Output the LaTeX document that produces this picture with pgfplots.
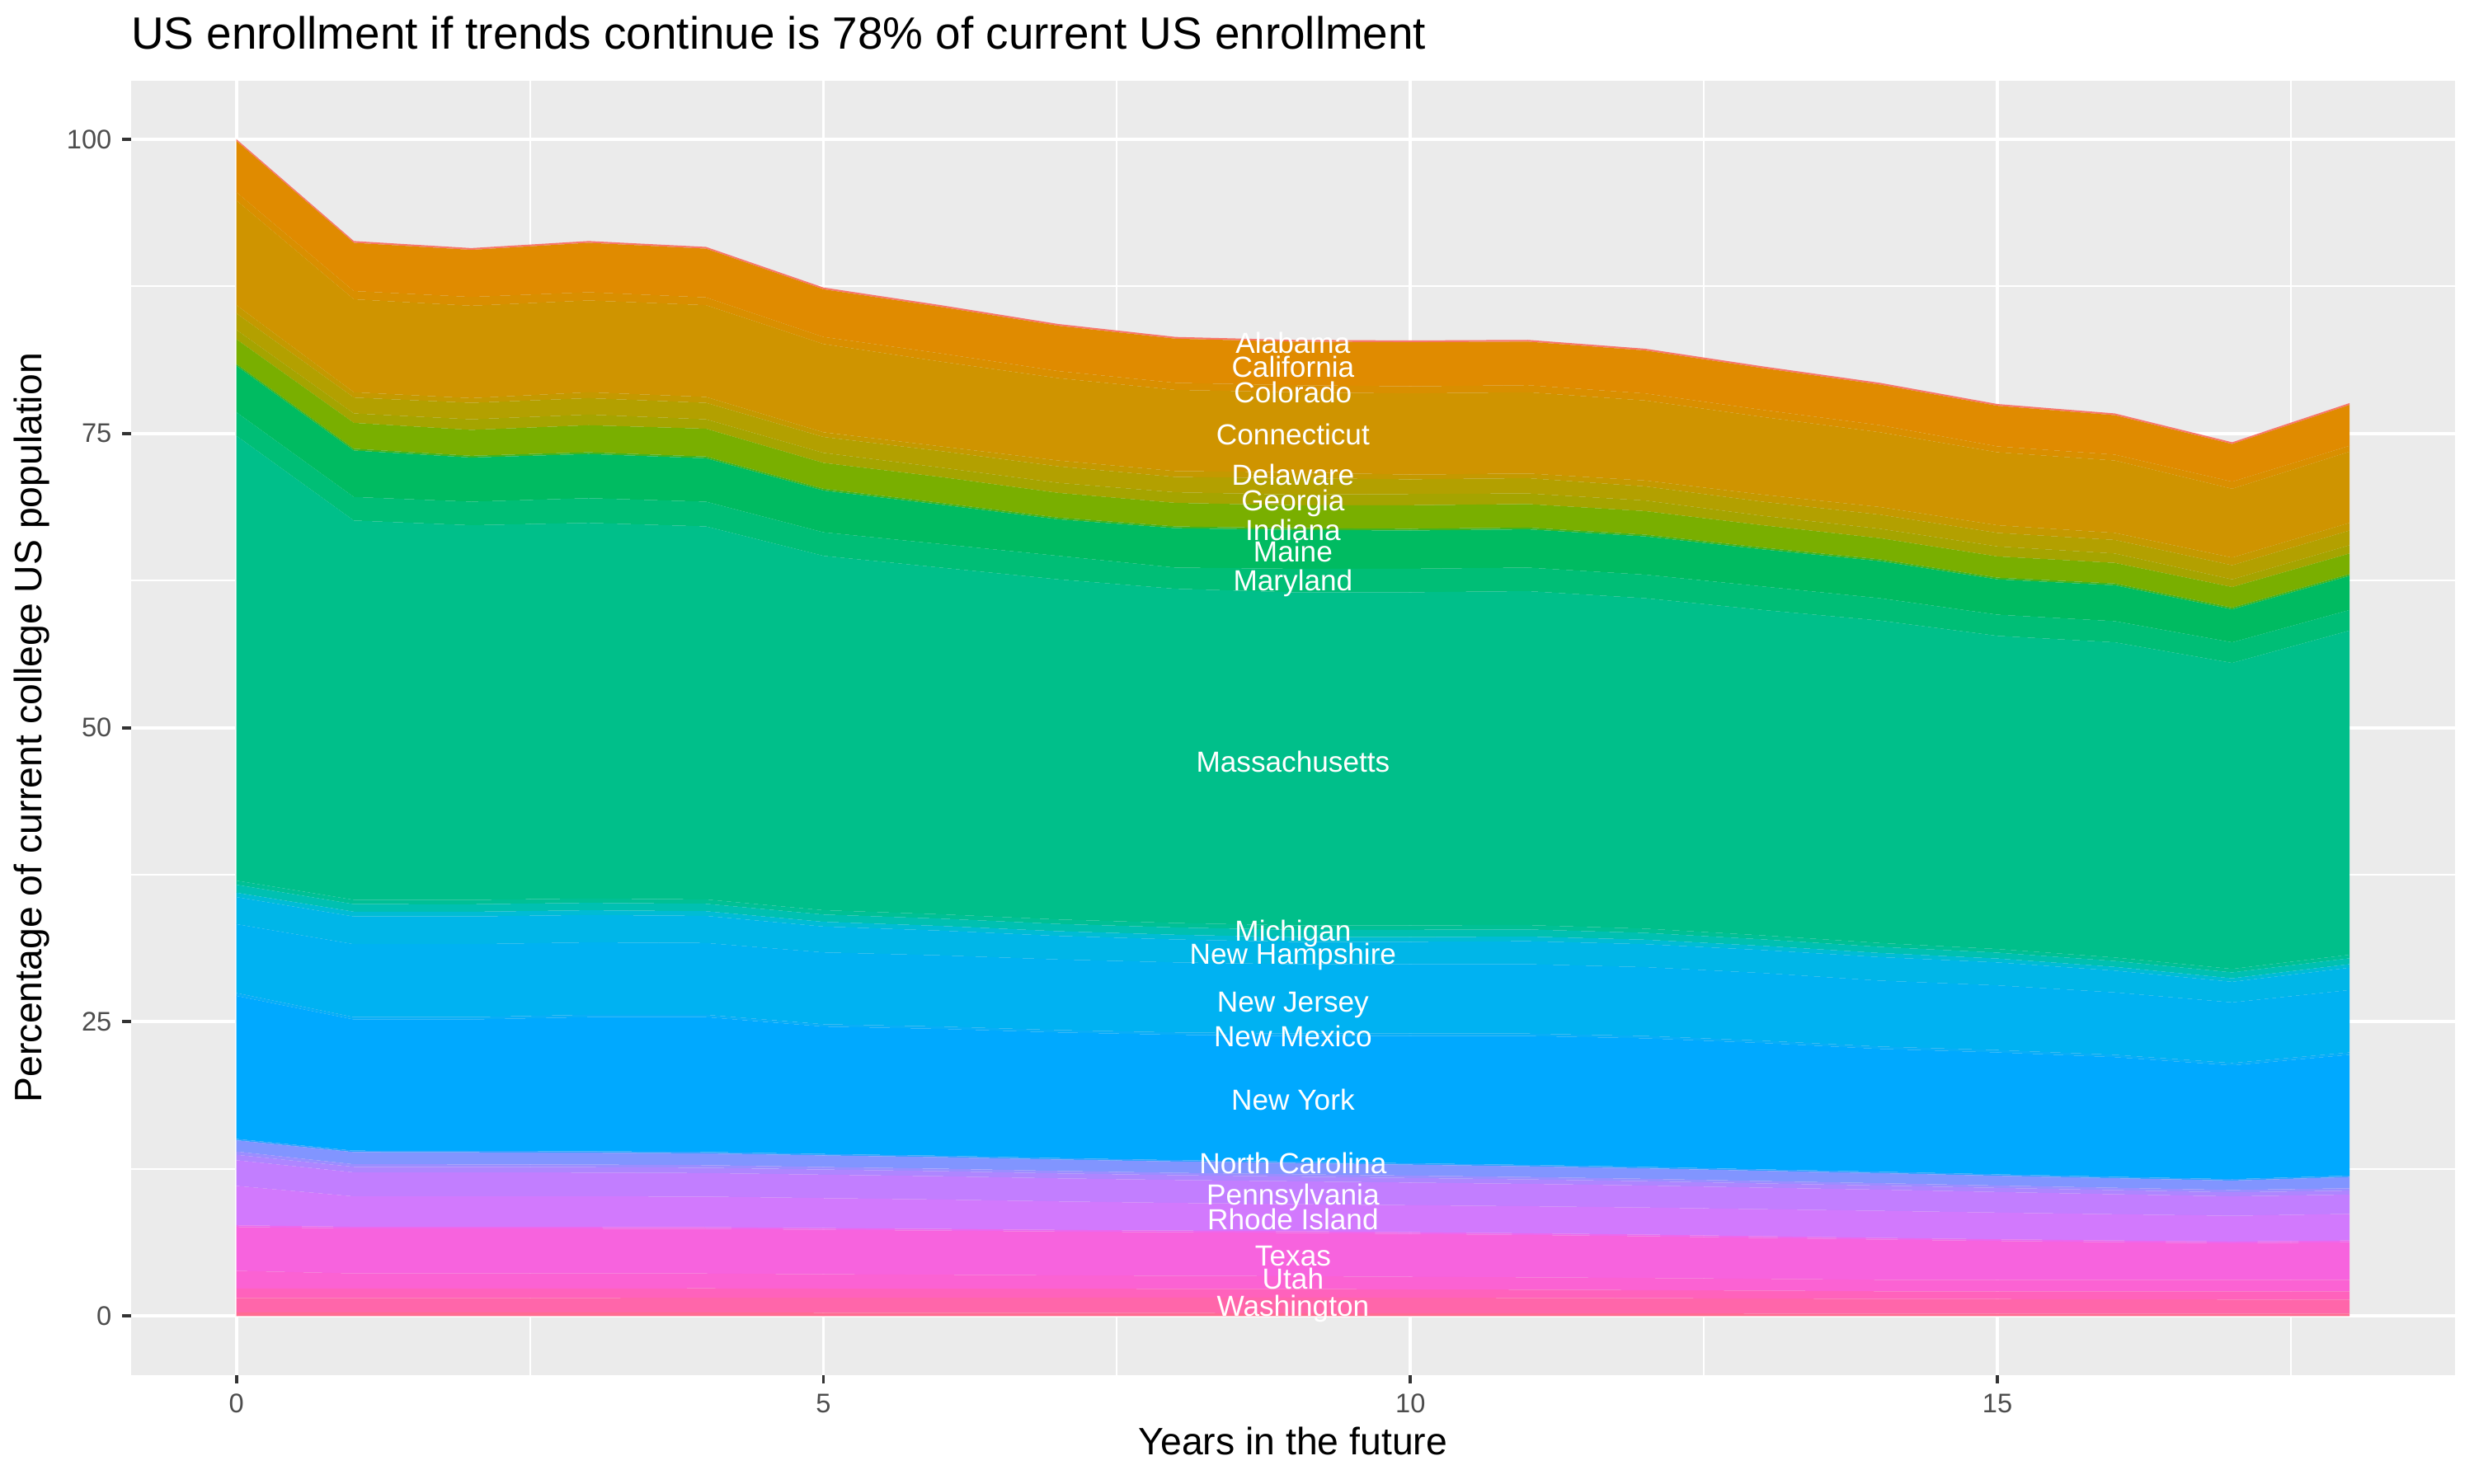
\documentclass[border=0pt]{standalone}
\usepackage{fontspec}
\setmainfont{Liberation Sans}
\usepackage{pgfplots}
\usepackage{pgfplotstable}
\pgfplotsset{compat=1.18}

% ggplot hue palette, one colour per state (alphabetical, Alabama first)
\definecolor{panelbg}{HTML}{EBEBEB}
\definecolor{tickcol}{HTML}{333333}
\definecolor{labcol}{HTML}{4D4D4D}
\definecolor{cWY}{HTML}{FF6C91}
\definecolor{cWA}{HTML}{FF66AA}
\definecolor{cVA}{HTML}{FF62BC}
\definecolor{cUT}{HTML}{FB62D3}
\definecolor{cTX}{HTML}{F763DE}
\definecolor{cTN}{HTML}{EC68EE}
\definecolor{cRI}{HTML}{D279FD}
\definecolor{cPA}{HTML}{C27EFF}
\definecolor{cOR}{HTML}{AE86FF}
\definecolor{cOK}{HTML}{9B8EFF}
\definecolor{cOH}{HTML}{8195FF}
\definecolor{cNC}{HTML}{32A3FF}
\definecolor{cNY}{HTML}{00A9FF}
\definecolor{cNM}{HTML}{09AEF7}
\definecolor{cNJ}{HTML}{00B2F2}
\definecolor{cNH}{HTML}{00B6E8}
\definecolor{cNV}{HTML}{00BCD5}
\definecolor{cMN}{HTML}{00C0B1}
\definecolor{cMI}{HTML}{00C095}
\definecolor{cMA}{HTML}{00BF8A}
\definecolor{cMD}{HTML}{00BE76}
\definecolor{cME}{HTML}{00BB61}
\definecolor{cIN}{HTML}{40B420}
\definecolor{cIL}{HTML}{79AF00}
\definecolor{cGA}{HTML}{A5A400}
\definecolor{cFL}{HTML}{B3A000}
\definecolor{cDE}{HTML}{C49900}
\definecolor{cCT}{HTML}{CF9400}
\definecolor{cCO}{HTML}{D98F00}
\definecolor{cCA}{HTML}{E08B00}
\definecolor{cAL}{HTML}{F8766D}

% share of current enrollment per state, bottom of the stack first
\pgfplotstableread{
yr WY WA VA UT TX TN RI PA OR OK OH NC NY NM NJ NH NV MN MI MA MD ME IN IL GA FL DE CT CO CA AL
0 .30 1.23 .81 1.50 3.73 .14 3.35 2.18 .46 .28 .95 .12 12.15 .25 5.85 2.30 .37 .68 .35 37.80 2.00 3.95 .15 2.10 .80 1.40 .70 8.90 .70 4.35 .15
1 .30 1.23 .81 1.28 3.82 .14 2.59 2.04 .47 .22 1.03 .12 11.15 .20 6.20 2.35 .41 .64 .37 32.23 2.00 3.95 .15 2.20 .80 1.35 .45 7.90 .70 4.10 .15
2 .30 1.23 .80 1.28 3.82 .14 2.60 2.03 .47 .22 1.02 .12 11.17 .20 6.20 2.35 .40 .64 .37 31.84 2.00 3.75 .15 2.20 .90 1.40 .40 7.85 .75 4.00 .15
3 .30 1.24 .80 1.27 3.82 .14 2.60 2.02 .46 .22 1.01 .12 11.40 .20 6.15 2.33 .40 .63 .37 31.92 2.10 3.75 .15 2.30 .90 1.40 .50 7.80 .70 4.20 .15
4 .30 1.25 .80 1.26 3.80 .14 2.60 2.00 .45 .22 1.00 .12 11.46 .20 6.10 2.30 .40 .63 .37 31.70 2.10 3.69 .15 2.36 .80 1.40 .50 7.80 .66 4.14 .15
5 .28 1.27 .78 1.22 3.78 .14 2.55 1.99 .44 .21 .99 .12 10.83 .20 6.10 2.20 .40 .62 .37 30.11 2.00 3.55 .15 2.20 .85 1.35 .40 7.50 .60 4.05 .15
6 .27 1.29 .77 1.18 3.75 .14 2.50 1.98 .43 .21 .98 .12 10.78 .20 6.05 2.10 .40 .62 .37 29.46 2.00 3.35 .15 2.20 .80 1.40 .40 7.20 .70 3.95 .15
7 .26 1.30 .76 1.14 3.72 .14 2.42 1.96 .42 .21 .97 .12 10.68 .20 6.00 2.00 .40 .62 .38 28.90 2.00 3.10 .15 2.10 .85 1.40 .50 7.00 .60 3.85 .15
8 .25 1.32 .74 1.11 3.70 .14 2.35 1.95 .41 .20 .96 .12 10.65 .20 5.95 1.95 .40 .62 .38 28.40 1.80 3.35 .15 2.00 .90 1.30 .50 6.90 .60 3.75 .15
9 .24 1.33 .73 1.09 3.68 .14 2.30 1.94 .40 .20 .95 .12 10.68 .20 5.90 1.90 .40 .62 .38 28.30 2.00 3.30 .15 1.95 .90 1.40 .50 6.80 .60 3.70 .15
10 .23 1.32 .71 1.07 3.65 .14 2.30 1.92 .39 .20 .93 .12 10.82 .20 5.90 1.90 .40 .62 .38 28.30 2.00 3.25 .15 2.00 .95 1.25 .40 6.90 .60 3.75 .15
11 .23 1.31 .70 1.05 3.60 .14 2.30 1.90 .38 .20 .91 .12 10.96 .20 5.90 1.95 .40 .60 .37 28.38 2.00 3.25 .15 2.00 .90 1.30 .40 6.90 .60 3.70 .15
12 .22 1.30 .68 1.03 3.55 .14 2.30 1.87 .37 .20 .89 .12 10.93 .20 5.85 1.95 .38 .58 .36 28.08 2.00 3.25 .15 2.00 .90 1.20 .50 6.80 .60 3.65 .15
13 .21 1.28 .67 1.00 3.48 .14 2.30 1.83 .36 .20 .87 .12 10.74 .20 5.75 1.95 .36 .55 .34 27.65 2.00 3.15 .15 1.90 .80 1.20 .60 6.60 .60 3.55 .15
14 .20 1.25 .65 .98 3.42 .14 2.30 1.80 .35 .20 .85 .12 10.44 .20 5.60 2.00 .35 .52 .33 27.40 1.90 3.15 .15 1.80 .80 1.20 .65 6.35 .60 3.45 .15
15 .20 1.24 .66 .98 3.30 .14 2.27 1.75 .35 .20 .83 .12 10.36 .20 5.50 1.95 .33 .50 .31 26.61 1.80 3.00 .15 1.80 .85 1.15 .65 6.20 .50 3.45 .15
16 .20 1.22 .68 .98 3.20 .14 2.23 1.70 .35 .20 .81 .12 10.17 .20 5.30 1.85 .32 .50 .30 26.78 1.80 3.05 .15 1.75 .80 1.15 .60 6.15 .50 3.35 .15
17 .20 1.20 .70 .98 3.10 .14 2.20 1.65 .34 .20 .80 .12 9.67 .20 5.15 1.75 .30 .50 .30 26.00 1.75 2.80 .15 1.75 .65 1.20 .65 5.85 .60 3.20 .15
18 .20 1.20 .70 .98 3.20 .14 2.26 1.64 .34 .20 .95 .12 10.27 .20 5.30 1.90 .30 .50 .30 27.55 1.75 2.90 .15 1.75 .70 1.25 .65 6.05 .50 3.48 .15
}\enroll

\tikzset{statelab/.style={text=white, font=\fontsize{9.5}{11}\selectfont, inner sep=0pt}}

\begin{document}
\begin{tikzpicture}
\useasboundingbox (0,0) rectangle (28.45cm,17.07cm);
\begin{axis}[
  at={(1.504cm,1.255cm)}, anchor=south west,
  scale only axis, width=26.73cm, height=14.89cm,
  xmin=-0.9, xmax=18.9, ymin=-5, ymax=105,
  axis background/.style={fill=panelbg},
  axis line style={draw=none},
  tick pos=left, tick align=outside,
  xtick={0,5,10,15}, ytick={0,25,50,75,100},
  minor xtick={2.5,7.5,12.5,17.5}, minor ytick={12.5,37.5,62.5,87.5},
  major tick length=2.75pt, minor tick length=0pt,
  tick style={color=tickcol, line width=1.07pt},
  grid=both,
  major grid style={white, line width=1.07pt},
  minor grid style={white, line width=0.53pt},
  /pgf/number format/assume math mode=true,
  ticklabel style={font=\fontsize{8.8}{10}\selectfont, text=labcol},
  title={US enrollment if trends continue is 78\% of current US enrollment},
  title style={at={(axis description cs:0,1)}, anchor=base west, inner sep=0pt,
    yshift=0.147cm, font=\fontsize{14.8}{17}\selectfont},
  xlabel={Years in the future},
  ylabel={Percentage of current college US population},
  xlabel style={at={(axis description cs:0.5,-0.051)}, anchor=center,
    inner sep=0pt, font=\fontsize{12.5}{15}\selectfont},
  ylabel style={at={(axis description cs:-0.0427,0.5)}, anchor=center,
    inner sep=0pt, font=\fontsize{12.5}{15}\selectfont},
  stack plots=y,
]
\addplot[fill=cWY, draw=none, mark=none] table[x=yr,y=WY]{\enroll} \closedcycle;
\addplot[fill=cWA, draw=none, mark=none] table[x=yr,y=WA]{\enroll} \closedcycle;
\addplot[fill=cVA, draw=none, mark=none] table[x=yr,y=VA]{\enroll} \closedcycle;
\addplot[fill=cUT, draw=none, mark=none] table[x=yr,y=UT]{\enroll} \closedcycle;
\addplot[fill=cTX, draw=none, mark=none] table[x=yr,y=TX]{\enroll} \closedcycle;
\addplot[fill=cTN, draw=none, mark=none] table[x=yr,y=TN]{\enroll} \closedcycle;
\addplot[fill=cRI, draw=none, mark=none] table[x=yr,y=RI]{\enroll} \closedcycle;
\addplot[fill=cPA, draw=none, mark=none] table[x=yr,y=PA]{\enroll} \closedcycle;
\addplot[fill=cOR, draw=none, mark=none] table[x=yr,y=OR]{\enroll} \closedcycle;
\addplot[fill=cOK, draw=none, mark=none] table[x=yr,y=OK]{\enroll} \closedcycle;
\addplot[fill=cOH, draw=none, mark=none] table[x=yr,y=OH]{\enroll} \closedcycle;
\addplot[fill=cNC, draw=none, mark=none] table[x=yr,y=NC]{\enroll} \closedcycle;
\addplot[fill=cNY, draw=none, mark=none] table[x=yr,y=NY]{\enroll} \closedcycle;
\addplot[fill=cNM, draw=none, mark=none] table[x=yr,y=NM]{\enroll} \closedcycle;
\addplot[fill=cNJ, draw=none, mark=none] table[x=yr,y=NJ]{\enroll} \closedcycle;
\addplot[fill=cNH, draw=none, mark=none] table[x=yr,y=NH]{\enroll} \closedcycle;
\addplot[fill=cNV, draw=none, mark=none] table[x=yr,y=NV]{\enroll} \closedcycle;
\addplot[fill=cMN, draw=none, mark=none] table[x=yr,y=MN]{\enroll} \closedcycle;
\addplot[fill=cMI, draw=none, mark=none] table[x=yr,y=MI]{\enroll} \closedcycle;
\addplot[fill=cMA, draw=none, mark=none] table[x=yr,y=MA]{\enroll} \closedcycle;
\addplot[fill=cMD, draw=none, mark=none] table[x=yr,y=MD]{\enroll} \closedcycle;
\addplot[fill=cME, draw=none, mark=none] table[x=yr,y=ME]{\enroll} \closedcycle;
\addplot[fill=cIN, draw=none, mark=none] table[x=yr,y=IN]{\enroll} \closedcycle;
\addplot[fill=cIL, draw=none, mark=none] table[x=yr,y=IL]{\enroll} \closedcycle;
\addplot[fill=cGA, draw=none, mark=none] table[x=yr,y=GA]{\enroll} \closedcycle;
\addplot[fill=cFL, draw=none, mark=none] table[x=yr,y=FL]{\enroll} \closedcycle;
\addplot[fill=cDE, draw=none, mark=none] table[x=yr,y=DE]{\enroll} \closedcycle;
\addplot[fill=cCT, draw=none, mark=none] table[x=yr,y=CT]{\enroll} \closedcycle;
\addplot[fill=cCO, draw=none, mark=none] table[x=yr,y=CO]{\enroll} \closedcycle;
\addplot[fill=cCA, draw=none, mark=none] table[x=yr,y=CA]{\enroll} \closedcycle;
\addplot[fill=cAL, draw=none, mark=none] table[x=yr,y=AL]{\enroll} \closedcycle;

% label anchors: centre of each named band at year 9
\coordinate (lAL) at (axis cs:9,82.7);
\coordinate (lCA) at (axis cs:9,80.65);
\coordinate (lCO) at (axis cs:9,78.5);
\coordinate (lCT) at (axis cs:9,74.9);
\coordinate (lDE) at (axis cs:9,71.5);
\coordinate (lGA) at (axis cs:9,69.1);
\coordinate (lIN) at (axis cs:9,66.8);
\coordinate (lME) at (axis cs:9,65.0);
\coordinate (lMD) at (axis cs:9,62.3);
\coordinate (lMA) at (axis cs:9,47.1);
\coordinate (lMI) at (axis cs:9,32.5);
\coordinate (lNH) at (axis cs:9,30.55);
\coordinate (lNJ) at (axis cs:9,26.4);
\coordinate (lNM) at (axis cs:9,23.75);
\coordinate (lNY) at (axis cs:9,18.35);
\coordinate (lNC) at (axis cs:9,13.0);
\coordinate (lPA) at (axis cs:9,10.05);
\coordinate (lRI) at (axis cs:9,8.25);
\coordinate (lTX) at (axis cs:9,5.1);
\coordinate (lUT) at (axis cs:9,3.2);
\coordinate (lWA) at (axis cs:9,0.65);
\end{axis}

\node[statelab] at (lAL) {Alabama};
\node[statelab] at (lCA) {California};
\node[statelab] at (lCO) {Colorado};
\node[statelab] at (lCT) {Connecticut};
\node[statelab] at (lDE) {Delaware};
\node[statelab] at (lGA) {Georgia};
\node[statelab] at (lIN) {Indiana};
\node[statelab] at (lME) {Maine};
\node[statelab] at (lMD) {Maryland};
\node[statelab] at (lMA) {Massachusetts};
\node[statelab] at (lMI) {Michigan};
\node[statelab] at (lNH) {New Hampshire};
\node[statelab] at (lNJ) {New Jersey};
\node[statelab] at (lNM) {New Mexico};
\node[statelab] at (lNY) {New York};
\node[statelab] at (lNC) {North Carolina};
\node[statelab] at (lPA) {Pennsylvania};
\node[statelab] at (lRI) {Rhode Island};
\node[statelab] at (lTX) {Texas};
\node[statelab] at (lUT) {Utah};
\node[statelab] at (lWA) {Washington};
\end{tikzpicture}
\end{document}
